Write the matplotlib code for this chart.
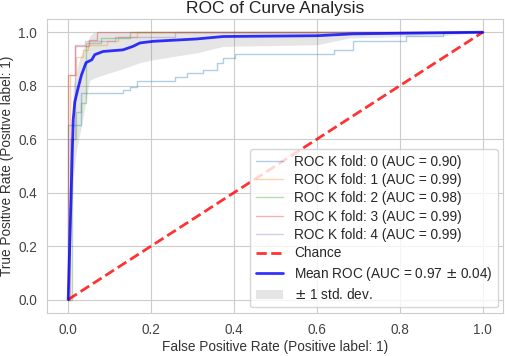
import numpy as np
import matplotlib
matplotlib.use("Agg")
import matplotlib.pyplot as plt
import seaborn as sns

# fold ROC curves (fpr, tpr)
fold_labels = ["ROC K fold: 0 (AUC = 0.90)", "ROC K fold: 1 (AUC = 0.99)",
               "ROC K fold: 2 (AUC = 0.98)", "ROC K fold: 3 (AUC = 0.99)",
               "ROC K fold: 4 (AUC = 0.99)"]

fold0_fpr = [0.0, 0.0, 0.02, 0.032, 0.032, 0.132, 0.132, 0.149, 0.149, 0.165, 0.165, 0.258,
             0.258, 0.286, 0.286, 0.325, 0.325, 0.358, 0.358, 0.374, 0.374, 0.403, 0.403,
             0.64, 0.64, 0.688, 0.688, 0.814, 0.814, 0.905, 0.905, 1.0]
fold0_tpr = [0.0, 0.653, 0.653, 0.653, 0.773, 0.773, 0.784, 0.784, 0.797, 0.797, 0.818, 0.818,
             0.834, 0.834, 0.847, 0.847, 0.86, 0.86, 0.885, 0.885, 0.903, 0.903, 0.918,
             0.918, 0.934, 0.934, 0.966, 0.966, 0.987, 0.987, 1.0, 1.0]

fold1_fpr = [0.0, 0.004, 0.004, 0.02, 0.02, 0.035, 0.035, 0.048, 0.048, 0.093, 0.093, 0.12,
             0.12, 0.165, 0.165, 1.0]
fold1_tpr = [0.0, 0.0, 0.84, 0.84, 0.909, 0.909, 0.934, 0.934, 0.953, 0.953, 0.966, 0.966,
             0.982, 0.982, 1.0, 1.0]

fold2_fpr = [0.0, 0.01, 0.01, 0.02, 0.02, 0.032, 0.032, 0.044, 0.044, 0.08, 0.08, 0.149,
             0.149, 1.0]
fold2_tpr = [0.0, 0.0, 0.6, 0.6, 0.703, 0.703, 0.736, 0.736, 0.96, 0.96, 0.98, 0.98,
             1.0, 1.0]

fold3_fpr = [0.0, 0.0, 0.016, 0.016, 0.05, 0.05, 0.069, 0.069, 1.0]
fold3_tpr = [0.0, 0.84, 0.84, 0.947, 0.947, 0.972, 0.972, 1.0, 1.0]

fold4_fpr = [0.0, 0.005, 0.005, 0.016, 0.016, 0.04, 0.04, 0.113, 0.113, 0.258, 0.258, 1.0]
fold4_tpr = [0.0, 0.0, 0.6, 0.6, 0.953, 0.953, 0.966, 0.966, 0.984, 0.984, 1.0, 1.0]

# mean ROC
mean_fpr = [0.0, 0.012, 0.016, 0.024, 0.032, 0.043, 0.057, 0.064, 0.084, 0.132, 0.156,
            0.173, 0.205, 0.311, 0.374, 0.601, 0.688, 0.995, 1.0]
mean_tpr = [0.0, 0.672, 0.74, 0.792, 0.84, 0.886, 0.897, 0.916, 0.928, 0.934, 0.947,
            0.96, 0.966, 0.975, 0.984, 0.987, 0.994, 1.0, 1.0]

# +/- 1 std band
band_fpr = [0.0, 0.012, 0.02, 0.028, 0.04, 0.048, 0.052, 0.06, 0.072, 0.125, 0.173, 0.205,
            0.31, 0.374, 0.6, 0.68, 0.905, 0.99, 1.0]
band_low = [0.0, 0.45, 0.56, 0.62, 0.717, 0.79, 0.82, 0.826, 0.834, 0.86, 0.886, 0.897,
            0.923, 0.947, 0.953, 0.979, 0.987, 1.0, 1.0]
band_high = [0.0, 0.8, 0.853, 0.904, 0.95, 0.97, 0.985, 0.998, 1.0, 1.0, 1.0, 1.0,
             1.0, 1.0, 1.0, 1.0, 1.0, 1.0, 1.0]

sns.set_style("whitegrid")
plt.rcParams['font.family'] = ['Liberation Sans', 'DejaVu Sans']

fig = plt.figure(figsize=(5.05, 3.56), dpi=100)
ax = fig.add_axes([0.094, 0.121, 0.903, 0.826])

folds = [(fold0_fpr, fold0_tpr), (fold1_fpr, fold1_tpr), (fold2_fpr, fold2_tpr),
         (fold3_fpr, fold3_tpr), (fold4_fpr, fold4_tpr)]
colors = ["tab:blue", "tab:orange", "tab:green", "tab:red", "tab:purple"]
for (f, t), c, lab in zip(folds, colors, fold_labels):
    ax.plot(f, t, color=c, lw=1, alpha=0.35, label=lab)

ax.plot([0, 1], [0, 1], linestyle='--', lw=2, color='r', label='Chance', alpha=.8)
ax.plot(mean_fpr, mean_tpr, color='b', lw=2, alpha=.8,
        label=r'Mean ROC (AUC = 0.97 $\pm$ 0.04)')
ax.fill_between(band_fpr, band_low, band_high, color='grey', alpha=.2,
                label=r'$\pm$ 1 std. dev.', lw=0)

ax.set_xlim(-0.05, 1.05)
ax.set_ylim(-0.05, 1.05)
ax.set_xticks([0, 0.2, 0.4, 0.6, 0.8, 1.0])
ax.set_yticks([0, 0.2, 0.4, 0.6, 0.8, 1.0])
ax.tick_params(labelsize=9.8, colors='#444444', pad=4)
ax.set_xlabel('False Positive Rate (Positive label: 1)', fontsize=9.8, color='#333333', labelpad=2)
ax.set_ylabel('True Positive Rate (Positive label: 1)', fontsize=9.8, color='#333333', labelpad=3)
ax.set_title('ROC of Curve Analysis', fontsize=12.5, color='#222222', pad=4)
ax.legend(loc='lower right', fontsize=9.8, frameon=True, borderaxespad=0.4,
          labelspacing=0.32)

fig.savefig('out.png', dpi=100)
